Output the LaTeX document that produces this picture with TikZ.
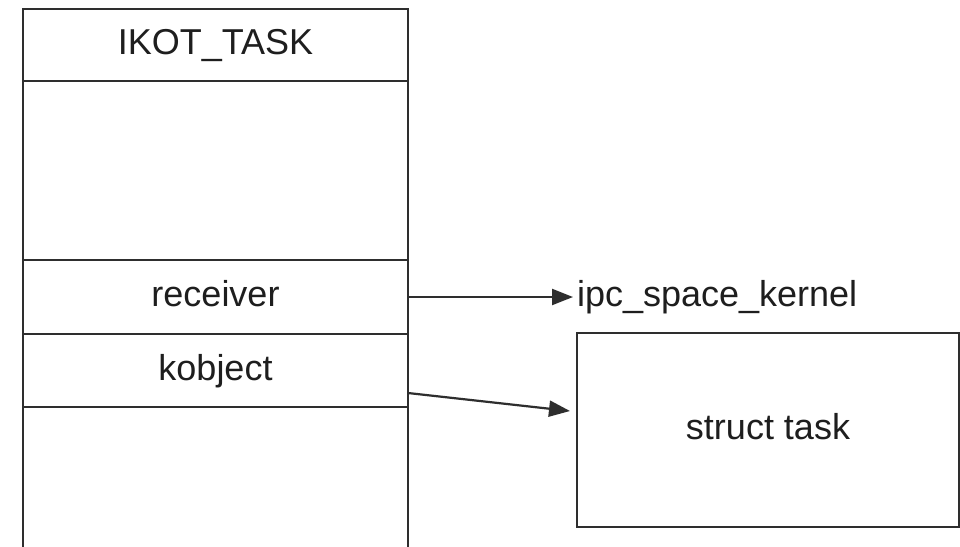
\documentclass[tikz,border=0pt]{standalone}
\usepackage{fontspec}
\setmainfont{Liberation Sans}
\usetikzlibrary{arrows.meta,calc}
\definecolor{linec}{HTML}{2E2E2E}
\definecolor{textc}{HTML}{1E1E1E}
\begin{document}
\begin{tikzpicture}[x=1pt,y=-1pt,
  every node/.style={inner sep=0pt, outer sep=0pt, text=textc, font=\fontsize{36}{40}\selectfont, text height=26pt, text depth=7pt},
  cell/.style={draw=linec, line width=2.2pt, minimum width=385pt},
  conn/.style={draw=linec, line width=2.2pt, -{Triangle[length=21pt,width=16pt]}}]
\useasboundingbox (0,0) rectangle (960,546);
\fill[white] (0,0) rectangle (960,546);
% left column
\node[cell, minimum height=72pt] (title) at (215.5,45) {IKOT\_TASK};
\node[cell, minimum height=179pt] (blank) at (215.5,170.5) {};
\node[cell, minimum height=74pt] (recv) at (215.5,297) {receiver};
\node[cell, minimum height=73pt] (kobj) at (215.5,370.5) {kobject};
\coordinate (bl) at (23,560);
\coordinate (br) at (408,560);
\draw[linec, line width=2.2pt] (kobj.south west) -- (bl);
\draw[linec, line width=2.2pt] (kobj.south east) -- (br);
% right side
\node[anchor=west] (ipc) at (577,297) {ipc\_space\_kernel};
\node[draw=linec, line width=2.2pt, minimum width=382pt, minimum height=194pt] (task) at (768,430) {struct task};
% connectors
\draw[conn] (recv.east) -- ($(ipc.west)+(-4,0)$);
\draw[conn] ($(kobj.east)+(0,22.5)$) -- ($(task.west)+(-7,-19)$);
\end{tikzpicture}
\end{document}
